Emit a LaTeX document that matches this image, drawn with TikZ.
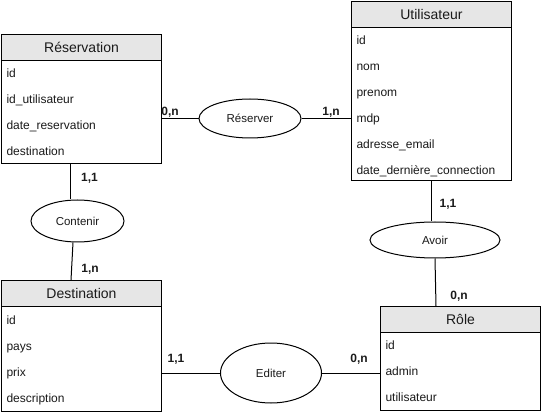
\documentclass[tikz,border=0pt]{standalone}
\usepackage{fontspec}
\setmainfont{Liberation Sans}
\usetikzlibrary{calc,shapes.geometric}
\definecolor{hdrgray}{HTML}{E6E6E6}
\definecolor{txt}{HTML}{1A1A1A}
\begin{document}
\begin{tikzpicture}[x=1pt,y=-1pt,line width=1pt,
  hdr/.style={draw,fill=hdrgray,minimum width=160pt,minimum height=26pt,inner sep=0pt,anchor=north west,font=\fontsize{14}{16}\selectfont,text=txt},
  tbody/.style={draw,fill=white,minimum width=160pt,inner sep=0pt,anchor=north west},
  attr/.style={anchor=west,inner sep=0pt,text height=8.6pt,text depth=0pt,font=\fontsize{12}{14}\selectfont,text=txt},
  rel/.style={draw,ellipse,fill=white,inner sep=0pt,font=\fontsize{11.5}{13}\selectfont,text=txt},
  card/.style={inner sep=0pt,text height=8.6pt,text depth=0pt,font=\fontsize{12}{14}\selectfont\bfseries,text=txt}]
\useasboundingbox (0,0) rectangle (541,414);

% Reservation
\node[tbody,minimum height=103pt] (res) at (1,60) {};
\node[hdr] (resh) at (1,34) {Réservation};
\node[attr] (res1) at (6,73) {id};
\node[attr] (res2) at (6,99) {id\_utilisateur};
\node[attr] (res3) at (6,125) {date\_reservation};
\node[attr] (res4) at (6,151) {destination};

% Utilisateur
\node[tbody,minimum height=153pt] (uti) at (351,27) {};
\node[hdr] (utih) at (351,1) {Utilisateur};
\node[attr] (uti1) at (356,40) {id};
\node[attr] (uti2) at (356,66) {nom};
\node[attr] (uti3) at (356,92) {prenom};
\node[attr] (uti4) at (356,118) {mdp};
\node[attr] (uti5) at (356,144) {adresse\_email};
\node[attr] (uti6) at (356,170) {date\_dernière\_connection};

% Destination
\node[tbody,minimum height=105pt] (dest) at (1,306) {};
\node[hdr] (desth) at (1,280) {Destination};
\node[attr] (dest1) at (6,320) {id};
\node[attr] (dest2) at (6,346) {pays};
\node[attr] (dest3) at (6,372) {prix};
\node[attr] (dest4) at (6,398) {description};

% Role
\node[tbody,minimum height=78pt] (role) at (380,332) {};
\node[hdr] (roleh) at (380,306) {Rôle};
\node[attr] (role1) at (385,345) {id};
\node[attr] (role2) at (385,371) {admin};
\node[attr] (role3) at (385,397) {utilisateur};

% Relations
\node[rel,minimum width=102pt,minimum height=39pt] (reserver) at (250,118.5) {Réserver};
\node[rel,minimum width=93pt,minimum height=42pt] (contenir) at (77.5,221) {Contenir};
\node[rel,minimum width=130pt,minimum height=36pt] (avoir) at (435,240) {Avoir};
\node[rel,minimum width=101pt,minimum height=60pt] (editer) at (271,373) {Editer};

% Connectors
\draw (reserver.west -| res.east) -- (reserver.west);
\draw (reserver.east) -- (reserver.east -| uti.west);
\draw (editer.west -| dest.east) -- (editer.west);
\draw (editer.east) -- (editer.east -| role.west);
\coordinate (c1) at ($(res.south west)+(69,0)$);
\draw (c1) -- (c1 |- contenir.north);
\coordinate (c2) at ($(contenir.south)+(-4.5,0)$);
\coordinate (c3) at ($(desth.north west)+(70,0)$);
\draw (c2) -- (c3);
\draw (uti.south) -- (uti.south |- avoir.north);
\coordinate (a2) at ($(roleh.north west)+(56,0)$);
\draw (avoir.south) -- (a2);

% Cardinalities
\node[card] (k1) at (170,111) {0,n};
\node[card] (k2) at (331,111) {1,n};
\node[card] (k3) at (89.5,177) {1,1};
\node[card] (k4) at (90,268) {1,n};
\node[card] (k5) at (448,203) {1,1};
\node[card] (k6) at (459,295) {0,n};
\node[card] (k7) at (176,358) {1,1};
\node[card] (k8) at (359,358) {0,n};
\end{tikzpicture}
\end{document}
